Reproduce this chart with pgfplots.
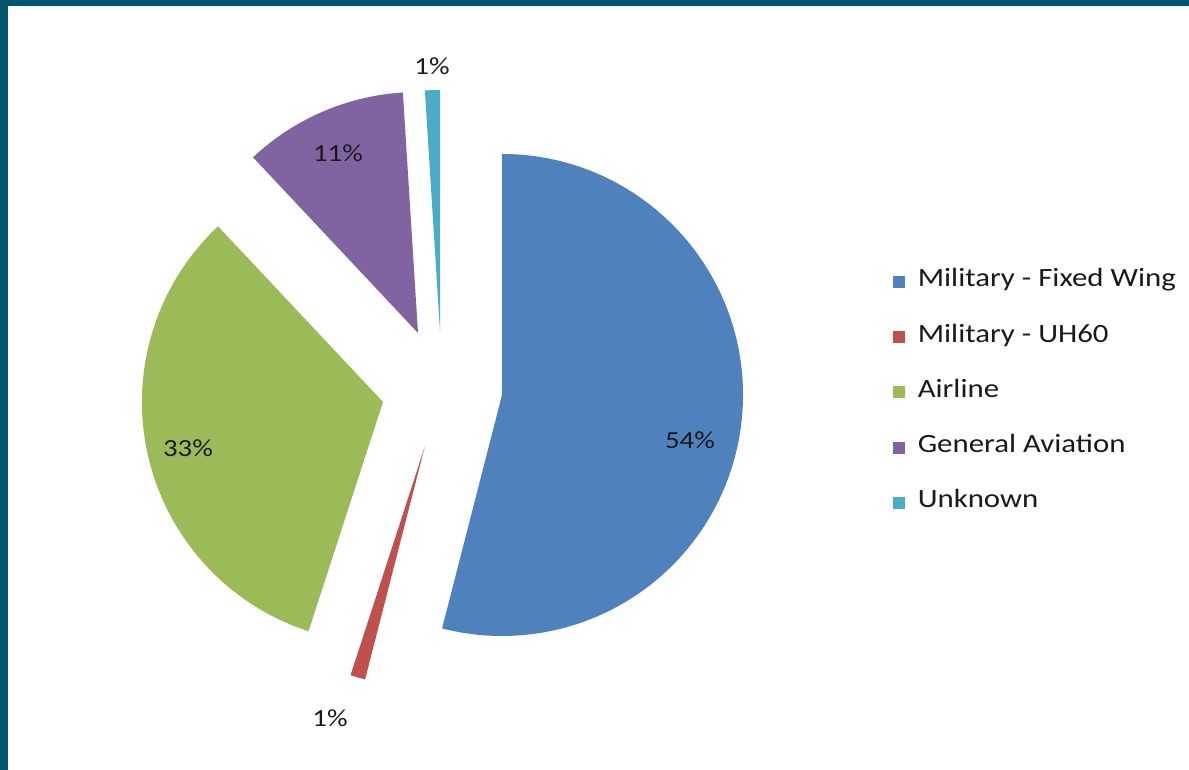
\documentclass[border=0pt]{standalone}
\usepackage{fontspec}
\usepackage{pgfplots}
\usepackage{pgfplotstable}
\pgfplotsset{compat=1.18}
\newfontfamily\chartfont[FakeStretch=1.17]{Carlito}
\definecolor{cBlue}{HTML}{4F81BD}
\definecolor{cRed}{HTML}{C0504D}
\definecolor{cGreen}{HTML}{9BBB59}
\definecolor{cPurple}{HTML}{8064A2}
\definecolor{cCyan}{HTML}{4BACC6}
\definecolor{cFrame}{HTML}{03566B}
\definecolor{cText}{HTML}{1A1A1A}

% value = percentage share; ax, ay = apex of the (exploded) slice in pixel units
\pgfplotstableread{
id value ax ay col
0 54 502 395 cBlue
1 1 425 446 cRed
2 33 383 402 cGreen
3 11 418 333 cPurple
4 1 440 331 cCyan
}\piedata

\def\R{2.41cm}
\gdef\pieslices{}
\gdef\cum{0}
\foreach \i in {0,...,4}{%
  \pgfplotstablegetelem{\i}{value}\of\piedata \let\v\pgfplotsretval
  \pgfplotstablegetelem{\i}{ax}\of\piedata \let\ax\pgfplotsretval
  \pgfplotstablegetelem{\i}{ay}\of\piedata \let\ay\pgfplotsretval
  \pgfplotstablegetelem{\i}{col}\of\piedata \let\col\pgfplotsretval
  \pgfmathsetmacro\a{90-3.6*\cum}%
  \pgfmathsetmacro\b{90-3.6*(\cum+\v)}%
  \pgfmathsetmacro\newcum{\cum+\v}%
  \xdef\pieslices{\pieslices
    \noexpand\fill[\col] (axis cs:\ax,\ay) -- ++(\a:\R)
      arc[start angle=\a, end angle=\b, radius=\R] -- cycle;}%
  \xdef\cum{\newcum}%
}

\begin{document}
\begin{tikzpicture}
\begin{axis}[
  scale only axis, width=11.89cm, height=7.70cm,
  xmin=0, xmax=1189, ymin=0, ymax=770, y dir=reverse,
  hide axis, clip=false,
  legend image code/.code={\fill[#1, draw=none] (0cm,-0.06cm) rectangle (0.12cm,0.06cm);
    \path (0.24cm,0cm);},
  legend style={draw=none, fill=none, at={(axis description cs:0.7505,0.6464)},
    anchor=north west, font=\chartfont\fontsize{7.5}{9}\selectfont,
    text=cText, row sep=0.3725cm, inner sep=0pt,
    nodes={inner sep=0pt, text height=0.14cm, text depth=0.04cm}},
  legend cell align=left,
]
\fill[white] (axis cs:0,0) rectangle (axis cs:1189,770);
\fill[cFrame] (axis cs:0,0) rectangle (axis cs:1189,6);
\fill[cFrame] (axis cs:0,0) rectangle (axis cs:8,770);
\pieslices
\addlegendimage{fill=cBlue}\addlegendentry{Military - Fixed Wing}
\addlegendimage{fill=cRed}\addlegendentry{Military - UH60}
\addlegendimage{fill=cGreen}\addlegendentry{Airline}
\addlegendimage{fill=cPurple}\addlegendentry{General Aviation}
\addlegendimage{fill=cCyan}\addlegendentry{Unknown}
\begin{scope}[every node/.style={font=\chartfont\fontsize{7}{8}\selectfont, text=cText}]
\node at (axis cs:690,440) {54\%};
\node at (axis cs:330,718) {1\%};
\node at (axis cs:188,448) {33\%};
\node at (axis cs:338,153) {11\%};
\node at (axis cs:432,66) {1\%};
\end{scope}
\end{axis}
\end{tikzpicture}
\end{document}
